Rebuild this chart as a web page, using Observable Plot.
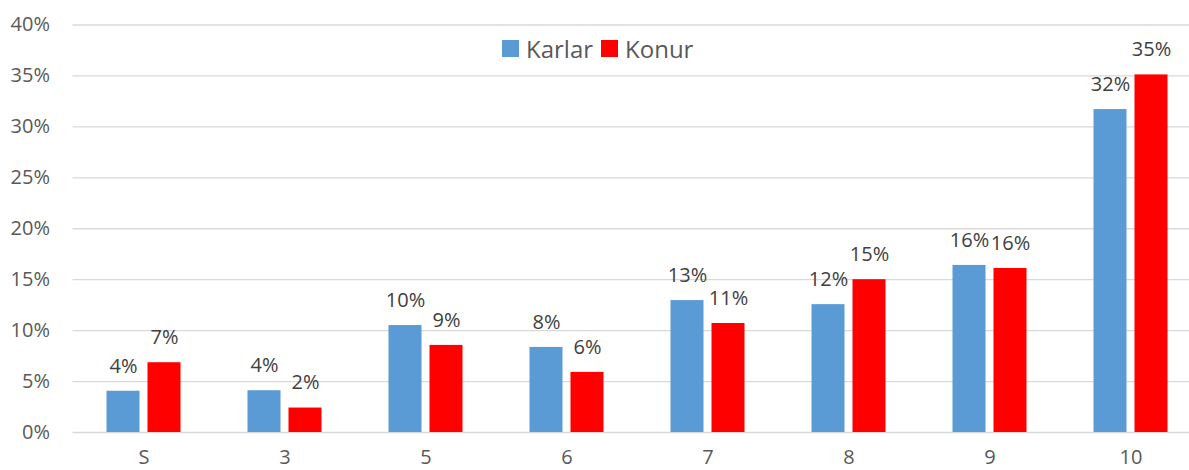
<!DOCTYPE html>
<html>
<head>
<meta charset="utf-8">
<script src="https://cdn.jsdelivr.net/npm/d3@7"></script>
<script src="https://cdn.jsdelivr.net/npm/@observablehq/plot@0.6"></script>
<style>
  html, body { margin: 0; padding: 0; background: #fff; overflow: hidden; }
  #wrap { position: relative; width: 1189px; height: 470px; }
  #legend { position: absolute; top: 32px; left: 502px; display: flex; align-items: center;
    font-family: "Open Sans", sans-serif; font-size: 24px; color: #595959; }
  #legend .sw { width: 17px; height: 17px; display: inline-block; margin-right: 7px; }
  #legend .item { display: flex; align-items: center; margin-right: 8px; }
</style>
</head>
<body>
<div id="wrap"><div id="legend"></div></div>
<script>
const categories = ["S", "3", "5", "6", "7", "8", "9", "10"];
const seriesNames = ["Karlar", "Konur"];
const karlar = [4.05, 4.1, 10.5, 8.35, 12.95, 12.55, 16.4, 31.7];
const konur  = [6.85, 2.4, 8.55, 5.9, 10.7, 15.0, 16.1, 35.1];
const labelsKarlar = ["4%", "4%", "10%", "8%", "13%", "12%", "16%", "32%"];
const labelsKonur  = ["7%", "2%", "9%", "6%", "11%", "15%", "16%", "35%"];
const yTicks = [0, 5, 10, 15, 20, 25, 30, 35, 40];
const colors = ["#5B9BD5", "#FF0000"];

const dataK = categories.map((c, i) => ({cat: c, v: karlar[i], label: labelsKarlar[i]}));
const dataR = categories.map((c, i) => ({cat: c, v: konur[i], label: labelsKonur[i]}));

const font = "'Open Sans', sans-serif";
const chart = Plot.plot({
  width: 1189,
  height: 470,
  marginLeft: 72.5,
  marginRight: -11.5,
  marginTop: 24.5,
  marginBottom: 38,
  style: {fontFamily: font, fontSize: "20px", color: "#595959", background: "white"},
  x: {domain: categories, padding: 0, label: null},
  y: {domain: [0, 40], label: null},
  marks: [
    Plot.ruleY(yTicks, {stroke: "#d9d9d9", strokeWidth: 1.3}),
    Plot.barY(dataK, {x: "cat", y: "v", fill: colors[0], insetLeft: 33.5, insetRight: 74.5}),
    Plot.barY(dataR, {x: "cat", y: "v", fill: colors[1], insetLeft: 74.5, insetRight: 33.5}),
    Plot.text(dataK, {x: "cat", y: "v", text: "label", dx: -20.5, dy: -25, lineAnchor: "middle", fill: "#404040", fontSize: 20}),
    Plot.text(dataR, {x: "cat", y: "v", text: "label", dx: 20.5, dy: -25, lineAnchor: "middle", fill: "#404040", fontSize: 20}),
    Plot.axisY({ticks: yTicks, tickFormat: d => d + "%", tickSize: 0, tickPadding: 23, fontSize: 20, fill: "#595959"}),
    Plot.axisX({tickSize: 0, tickPadding: 17, fontSize: 20, fill: "#595959"})
  ]
});
document.getElementById("wrap").prepend(chart);

const legend = document.getElementById("legend");
seriesNames.forEach((n, i) => {
  const it = document.createElement("span");
  it.className = "item";
  it.innerHTML = `<span class="sw" style="background:${colors[i]}"></span><span>${n}</span>`;
  legend.appendChild(it);
});
</script>
</body>
</html>
